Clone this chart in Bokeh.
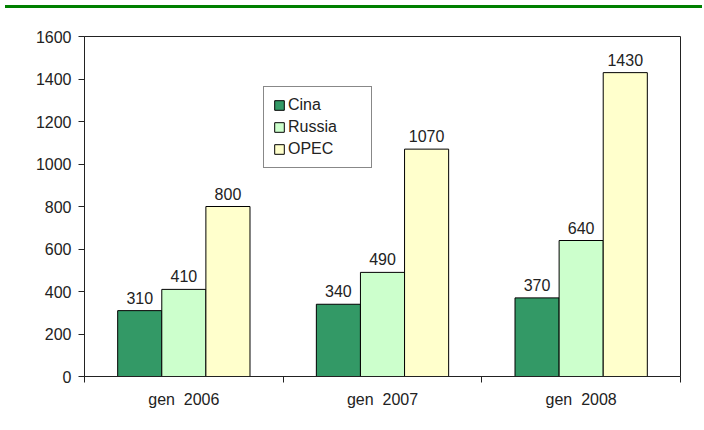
from bokeh.plotting import figure
from bokeh.models import (ColumnDataSource, FixedTicker, Range1d, LabelSet, Legend,
                          LegendItem, Div)
from bokeh.core.properties import value
from bokeh.layouts import column
from bokeh.embed import file_html
from bokeh.resources import INLINE

categories = ["gen  2006", "gen  2007", "gen  2008"]
series = ["Cina", "Russia", "OPEC"]
cina = [310, 340, 370]
russia = [410, 490, 640]
opec = [800, 1070, 1430]
colors = ["#339966", "#CCFFCC", "#FFFFCC"]
y_ticks = [0, 200, 400, 600, 800, 1000, 1200, 1400, 1600]

FONT = "Liberation Sans"
FS = "16px"
TXT = "#222222"

p = figure(width=690, height=407, output_backend="svg", toolbar_location=None,
           x_range=Range1d(0, len(categories)), y_range=Range1d(0, 1600),
           min_border_left=84, min_border_right=10, min_border_top=23, min_border_bottom=44)
p.grid.visible = False
p.outline_line_color = "#222222"
p.outline_line_width = 1

bw = 0.222
offsets = [-bw, 0, bw]
renderers = []
for vals, off, col, name in zip([cina, russia, opec], offsets, colors, series):
    xs = [i + 0.5 + off for i in range(len(categories))]
    src = ColumnDataSource(dict(x=xs, top=vals, lab=[str(v) for v in vals]))
    r = p.vbar(x="x", top="top", width=bw, source=src, fill_color=col,
               line_color="black", line_width=1)
    renderers.append(r)
    p.add_layout(LabelSet(x="x", y="top", text="lab", source=src, y_offset=7,
                          text_align="center", text_baseline="bottom",
                          text_font=value(FONT), text_font_size=value(FS),
                          text_color=TXT))

xa = p.xaxis[0]
xa.ticker = FixedTicker(ticks=[i + 0.5 for i in range(len(categories))],
                        minor_ticks=list(range(len(categories) + 1)))
xa.major_label_overrides = {i + 0.5: c.replace(" ", "\u00a0") for i, c in enumerate(categories)}
xa.major_tick_out = 0
xa.major_tick_in = 0
xa.minor_tick_out = 6
xa.minor_tick_in = 0
xa.major_label_standoff = 8
xa.axis_line_color = "#222222"
xa.minor_tick_line_color = "#222222"

ya = p.yaxis[0]
ya.ticker = FixedTicker(ticks=y_ticks, minor_ticks=[])
ya.major_tick_out = 6
ya.major_tick_in = 0
ya.major_label_standoff = 7
ya.axis_line_color = "#222222"
ya.major_tick_line_color = "#222222"

for ax in (xa, ya):
    ax.major_label_text_font = FONT
    ax.major_label_text_font_size = FS
    ax.major_label_text_color = TXT

legend = Legend(items=[LegendItem(label=s, renderers=[r]) for s, r in zip(series, renderers)],
                location=(179, 208))
legend.glyph_width = 12
legend.glyph_height = 12
legend.label_height = 16
legend.label_width = 74
legend.spacing = 4
legend.padding = 9
legend.margin = 0
legend.label_standoff = 3
legend.label_text_font = FONT
legend.label_text_font_size = FS
legend.label_text_color = TXT
legend.border_line_color = "#111111"
legend.border_line_width = 1
legend.background_fill_color = "white"
legend.background_fill_alpha = 1
p.add_layout(legend, "center")

bar = Div(width=697, height=3, styles={"background-color": "#008000"})
layout = column(bar, p, spacing=0)

open("out.html", "w").write(file_html(layout, INLINE))
